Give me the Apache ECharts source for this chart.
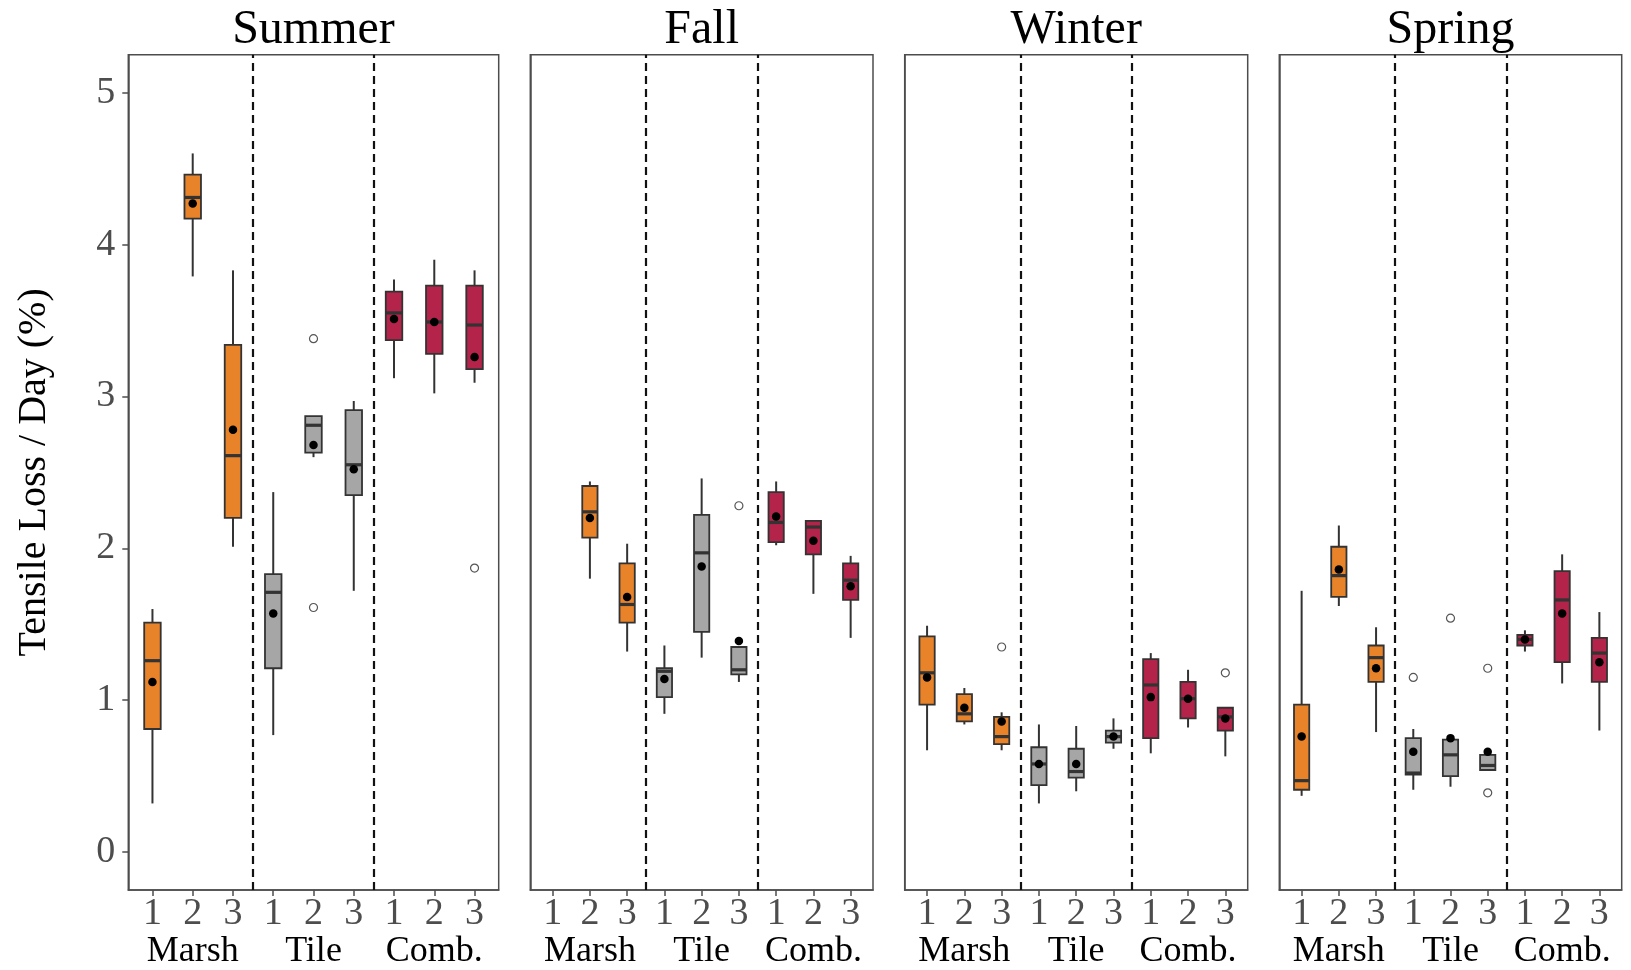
<!DOCTYPE html>
<html><head><meta charset="utf-8">
<script src="https://cdn.jsdelivr.net/npm/echarts@6/dist/echarts.min.js"></script>
<style>html,body{margin:0;padding:0;background:#fff}#chart{width:1631px;height:970px}</style>
</head><body><div id="chart"></div>
<script>
const seasons = ['Summer', 'Fall', 'Winter', 'Spring'];
const xTickLabels = ['1', '2', '3', '1', '2', '3', '1', '2', '3'];
const groupLabels = ['Marsh', 'Tile', 'Comb.'];
const groupPositions = [1, 4, 7];
const yTickValues = [0, 1, 2, 3, 4, 5];
const yAxisTitle = 'Tensile Loss / Day (%)';

// each box: [min, Q1, median, Q3, max]; null = no data
const summerBox = [
  [0.32, 0.81, 1.26, 1.51, 1.60],
  [3.79, 4.17, 4.31, 4.46, 4.60],
  [2.01, 2.20, 2.61, 3.34, 3.83],
  [0.77, 1.21, 1.71, 1.83, 2.37],
  [2.60, 2.63, 2.81, 2.87, 2.87],
  [1.72, 2.35, 2.55, 2.91, 2.97],
  [3.12, 3.37, 3.55, 3.69, 3.77],
  [3.02, 3.28, 3.49, 3.73, 3.90],
  [3.09, 3.18, 3.47, 3.73, 3.83]
];
const summerMean = [1.12, 4.27, 2.78, 1.57, 2.68, 2.52, 3.51, 3.49, 3.26];
const summerOutliers = [[4, 3.38], [4, 1.61], [8, 1.87]];

const fallBox = [
  null,
  [1.80, 2.07, 2.24, 2.41, 2.44],
  [1.32, 1.51, 1.63, 1.90, 2.03],
  [0.91, 1.02, 1.19, 1.21, 1.36],
  [1.28, 1.45, 1.97, 2.22, 2.46],
  [1.12, 1.17, 1.20, 1.35, 1.35],
  [2.02, 2.04, 2.17, 2.37, 2.44],
  [1.70, 1.96, 2.14, 2.18, 2.18],
  [1.41, 1.66, 1.79, 1.90, 1.95]
];
const fallMean = [null, 2.20, 1.68, 1.14, 1.88, 1.39, 2.21, 2.05, 1.75];
const fallOutliers = [[5, 2.28]];

const winterBox = [
  [0.67, 0.97, 1.18, 1.42, 1.49],
  [0.84, 0.86, 0.91, 1.04, 1.08],
  [0.67, 0.71, 0.76, 0.89, 0.92],
  [0.32, 0.44, 0.58, 0.69, 0.84],
  [0.40, 0.49, 0.53, 0.68, 0.83],
  [0.68, 0.72, 0.76, 0.80, 0.88],
  [0.65, 0.75, 1.10, 1.27, 1.31],
  [0.82, 0.88, 1.01, 1.12, 1.20],
  [0.63, 0.80, 0.89, 0.95, 0.95]
];
const winterMean = [1.15, 0.95, 0.86, 0.58, 0.58, 0.76, 1.02, 1.01, 0.88];
const winterOutliers = [[2, 1.35], [8, 1.18]];

const springBox = [
  [0.37, 0.41, 0.47, 0.97, 1.72],
  [1.62, 1.68, 1.82, 2.01, 2.15],
  [0.79, 1.12, 1.28, 1.36, 1.48],
  [0.41, 0.51, 0.52, 0.75, 0.81],
  [0.43, 0.50, 0.64, 0.74, 0.74],
  [0.54, 0.54, 0.57, 0.64, 0.64],
  [1.32, 1.36, 1.40, 1.43, 1.46],
  [1.11, 1.25, 1.66, 1.85, 1.96],
  [0.80, 1.12, 1.31, 1.41, 1.58]
];
const springMean = [0.76, 1.86, 1.21, 0.66, 0.75, 0.66, 1.40, 1.57, 1.25];
const springOutliers = [[3, 1.15], [4, 1.54], [5, 1.21], [5, 0.39]];

const separators = [2.5, 5.5];

const boxesBySeason = [summerBox, fallBox, winterBox, springBox];
const meansBySeason = [summerMean, fallMean, winterMean, springMean];
const outliersBySeason = [summerOutliers, fallOutliers, winterOutliers, springOutliers];

const groupColors = ['#E8832A', '#A6A6A6', '#B3234A'];
const FONT = '"Liberation Serif", "Times New Roman", serif';
const panels = [
  { left: 128.3, width: 370.4 },
  { left: 530.3, width: 342.7 },
  { left: 904.7, width: 343.0 },
  { left: 1279.3, width: 342.4 }
];
const gridTop = 54.7, gridHeight = 836.8;

function renderBox(params, api) {
  const x = api.value(0);
  const lo = api.coord([x, api.value(1)]);
  const q1 = api.coord([x, api.value(2)]);
  const med = api.coord([x, api.value(3)]);
  const q3 = api.coord([x, api.value(4)]);
  const hi = api.coord([x, api.value(5)]);
  const w = api.size([0.41, 0])[0];
  const color = groupColors[Math.floor(x / 3)];
  const stroke = '#333333';
  return {
    type: 'group',
    children: [
      { type: 'line', shape: { x1: lo[0], y1: lo[1], x2: q1[0], y2: q1[1] }, style: { stroke, lineWidth: 2 } },
      { type: 'line', shape: { x1: q3[0], y1: q3[1], x2: hi[0], y2: hi[1] }, style: { stroke, lineWidth: 2 } },
      { type: 'rect', shape: { x: q3[0] - w / 2, y: q3[1], width: w, height: q1[1] - q3[1] }, style: { fill: color, stroke, lineWidth: 1.8 } },
      { type: 'line', shape: { x1: med[0] - w / 2, y1: med[1], x2: med[0] + w / 2, y2: med[1] }, style: { stroke, lineWidth: 3.2 } }
    ]
  };
}

const grid = [], xAxis = [], yAxis = [], series = [], graphic = [];
panels.forEach((p, i) => {
  grid.push({ left: p.left, top: gridTop, width: p.width, height: gridHeight, show: true, borderColor: '#4d4d4d', borderWidth: 1.5, backgroundColor: '#fff' });
  xAxis.push({
    type: 'value', gridIndex: i, min: -0.6, max: 8.6, position: 'bottom',
    splitLine: { show: false },
    axisLine: { show: true, onZero: false, lineStyle: { color: '#4d4d4d', width: 1.5 } },
    axisTick: { show: true, length: 6, customValues: xTickLabels.map((_, k) => k), lineStyle: { color: '#4d4d4d', width: 1.5 } },
    axisLabel: { show: true, customValues: xTickLabels.map((_, k) => k), formatter: v => xTickLabels[Math.round(v)], fontFamily: FONT, fontSize: 38, color: '#4d4d4d', margin: 5 }
  });
  xAxis.push({
    type: 'value', gridIndex: i, min: -0.6, max: 8.6, position: 'bottom', offset: 39,
    splitLine: { show: false }, axisLine: { show: false }, axisTick: { show: false },
    axisLabel: { show: true, customValues: groupPositions, formatter: v => groupLabels[groupPositions.indexOf(Math.round(v))], fontFamily: FONT, fontSize: 36, color: '#000', margin: 5 }
  });
  yAxis.push({
    type: 'value', gridIndex: i, min: -0.25, max: 5.25,
    splitLine: { show: false },
    axisLine: { show: true, onZero: false, lineStyle: { color: '#4d4d4d', width: 1.5 } },
    axisTick: { show: i === 0, length: 6, customValues: yTickValues, lineStyle: { color: '#4d4d4d', width: 1.5 } },
    axisLabel: { show: i === 0, customValues: yTickValues, fontFamily: FONT, fontSize: 38, color: '#4d4d4d', margin: 13 },
    name: i === 0 ? yAxisTitle : '', nameLocation: 'middle', nameGap: 74, nameRotate: 90,
    nameTextStyle: { fontFamily: FONT, fontSize: 40, color: '#000' }
  });
  const boxData = boxesBySeason[i].map((b, k) => b ? [k].concat(b) : null).filter(d => d);
  series.push({
    type: 'custom', xAxisIndex: i * 2, yAxisIndex: i, renderItem: renderBox,
    encode: { x: 0, y: [1, 2, 3, 4, 5] }, data: boxData, z: 2, silent: true,
    markLine: {
      silent: true, symbol: 'none', label: { show: false },
      lineStyle: { type: [8, 5], color: '#111', width: 2.2 },
      data: separators.map(s => ({ xAxis: s }))
    }
  });
  series.push({
    type: 'scatter', xAxisIndex: i * 2, yAxisIndex: i, symbol: 'circle', symbolSize: 8.5, z: 4, silent: true,
    itemStyle: { color: '#000', opacity: 1 },
    data: meansBySeason[i].map((m, k) => m == null ? null : [k, m]).filter(d => d)
  });
  series.push({
    type: 'scatter', xAxisIndex: i * 2, yAxisIndex: i, symbol: 'circle', symbolSize: 8, z: 3, silent: true,
    itemStyle: { color: '#fff', borderColor: '#555', borderWidth: 1.2, opacity: 1 },
    data: outliersBySeason[i]
  });
  graphic.push({
    type: 'text', x: p.left + p.width / 2, y: 6,
    style: { text: seasons[i], font: '48px ' + FONT, fill: '#000', textAlign: 'center', align: 'center', textVerticalAlign: 'top', verticalAlign: 'top' }
  });
});

const chart = echarts.init(document.getElementById('chart'), null, { renderer: 'canvas' });
chart.setOption({
  animation: false,
  backgroundColor: '#fff',
  textStyle: { fontFamily: FONT },
  grid, xAxis, yAxis, series, graphic
});
</script></body></html>
